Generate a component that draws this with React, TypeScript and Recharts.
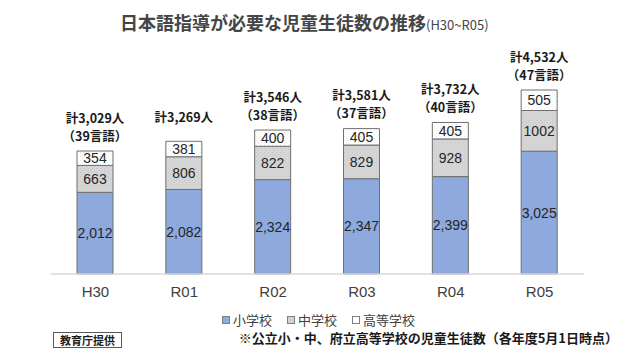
import { BarChart, Bar, XAxis, YAxis, LabelList } from "recharts";

const years = ["H30", "R01", "R02", "R03", "R04", "R05"];
const elementary = [2012, 2082, 2324, 2347, 2399, 3025];
const juniorHigh = [663, 806, 822, 829, 928, 1002];
const highSchool = [354, 381, 400, 405, 405, 505];
const languages: (number | null)[] = [39, null, 38, 37, 40, 47];

const seriesNames = ["小学校", "中学校", "高等学校"];
const swatchFills = ["#8FAADC", "#D3D3D3", "#FFFFFF"];

const data = years.map((year, i) => ({
  year,
  elementary: elementary[i],
  juniorHigh: juniorHigh[i],
  highSchool: highSchool[i],
  total: elementary[i] + juniorHigh[i] + highSchool[i],
  lang: languages[i],
}));

const JP = '"Noto Sans CJK JP", "Noto Sans", sans-serif';
const NUM = '"Liberation Sans", Arial, "Noto Sans CJK JP", sans-serif';

function TotalLabel(props: any) {
  const { x, y, width, index } = props;
  const d = data[index];
  if (!d) return null;
  const cx = Number(x) + Number(width) / 2;
  const top = Number(y);
  const first = `計${d.total.toLocaleString("en-US")}人`;
  const style = { fontFamily: JP, fontWeight: 700, fontSize: 12.5, fill: "#1a1a1a" };
  if (d.lang == null) {
    return (
      <text x={cx} y={top - 25} textAnchor="middle" dominantBaseline="central" style={style}>
        {first}
      </text>
    );
  }
  return (
    <g>
      <text x={cx} y={top - 34} textAnchor="middle" dominantBaseline="central" style={style}>
        {first}
      </text>
      <text x={cx} y={top - 16} textAnchor="middle" dominantBaseline="central" style={style}>
        {`（${d.lang}言語）`}
      </text>
    </g>
  );
}

const segLabel = { fontFamily: NUM, fontSize: 14, fill: "#262626" };

export default function App() {
  return (
    <div
      style={{
        position: "absolute",
        left: 0,
        top: 0,
        width: 640,
        height: 360,
        background: "#fff",
        fontFamily: JP,
      }}
    >
      <div
        style={{
          position: "absolute",
          left: 120,
          top: 10,
          fontSize: 18,
          lineHeight: "24px",
          fontWeight: 700,
          color: "#454545",
          whiteSpace: "nowrap",
        }}
      >
        日本語指導が必要な児童生徒数の推移
        <span style={{ fontSize: 13, fontWeight: 400 }}>(H30~R05)</span>
      </div>

      <BarChart
        width={640}
        height={360}
        data={data}
        margin={{ top: 71, right: 56, bottom: 56, left: 51 }}
        barSize={36}
      >
        <defs>
          <pattern id="blueHatch" width="4" height="4" patternUnits="userSpaceOnUse">
            <rect width="4" height="4" fill="#8FAADC" />
            <rect x="0" y="0" width="1" height="1" fill="#86A2D6" />
            <rect x="2" y="2" width="1" height="1" fill="#86A2D6" />
          </pattern>
          <pattern id="grayDots" width="4" height="4" patternUnits="userSpaceOnUse">
            <rect width="4" height="4" fill="#D6D6D6" />
            <rect x="0" y="0" width="1" height="1" fill="#C4C4C4" />
            <rect x="2" y="2" width="1" height="1" fill="#C4C4C4" />
          </pattern>
          <pattern id="whiteDots" width="4" height="4" patternUnits="userSpaceOnUse">
            <rect width="4" height="4" fill="#FFFFFF" />
            <rect x="0" y="0" width="1" height="1" fill="#E8E8E8" />
            <rect x="2" y="2" width="1" height="1" fill="#E8E8E8" />
          </pattern>
        </defs>
        <XAxis
          dataKey="year"
          height={30}
          axisLine={{ stroke: "#D9D9D9", strokeWidth: 1.5 }}
          tickLine={false}
          tickMargin={6}
          tick={{ fontSize: 15, fill: "#404040", fontFamily: NUM }}
        />
        <YAxis hide domain={[0, 5000]} />
        <Bar
          dataKey="elementary"
          stackId="a"
          fill="url(#blueHatch)"
          stroke="#6F6F6F"
          strokeWidth={1}
          isAnimationActive={false}
        >
          <LabelList
            dataKey="elementary"
            position="center"
            formatter={(v: any) => Number(v).toLocaleString("en-US")}
            style={segLabel}
          />
        </Bar>
        <Bar
          dataKey="juniorHigh"
          stackId="a"
          fill="url(#grayDots)"
          stroke="#6F6F6F"
          strokeWidth={1}
          isAnimationActive={false}
        >
          <LabelList dataKey="juniorHigh" position="center" formatter={(v: any) => String(v)} style={segLabel} />
        </Bar>
        <Bar
          dataKey="highSchool"
          stackId="a"
          fill="url(#whiteDots)"
          stroke="#6F6F6F"
          strokeWidth={1}
          isAnimationActive={false}
        >
          <LabelList dataKey="highSchool" position="center" formatter={(v: any) => String(v)} style={segLabel} />
          <LabelList dataKey="total" content={TotalLabel} />
        </Bar>
      </BarChart>

      <div
        style={{
          position: "absolute",
          left: 222,
          top: 311,
          display: "flex",
          alignItems: "center",
          gap: 15,
          fontSize: 13,
          lineHeight: "18px",
          color: "#404040",
          whiteSpace: "nowrap",
        }}
      >
        {seriesNames.map((name, i) => (
          <div key={name} style={{ display: "flex", alignItems: "center", gap: 3 }}>
            <span
              style={{
                display: "inline-block",
                width: 6,
                height: 6,
                border: "1px solid #7F7F7F",
                background: swatchFills[i],
              }}
            />
            <span>{name}</span>
          </div>
        ))}
      </div>

      <div
        style={{
          position: "absolute",
          left: 53,
          top: 332,
          width: 67,
          height: 14,
          border: "1px solid #595959",
          fontSize: 11,
          lineHeight: "14px",
          fontWeight: 700,
          textAlign: "center",
          color: "#1a1a1a",
        }}
      >
        教育庁提供
      </div>

      <div
        style={{
          position: "absolute",
          right: 22,
          top: 330,
          fontSize: 13,
          lineHeight: "16px",
          fontWeight: 700,
          color: "#1a1a1a",
          whiteSpace: "nowrap",
        }}
      >
        ※公立小・中、府立高等学校の児童生徒数（各年度5月1日時点）
      </div>
    </div>
  );
}
